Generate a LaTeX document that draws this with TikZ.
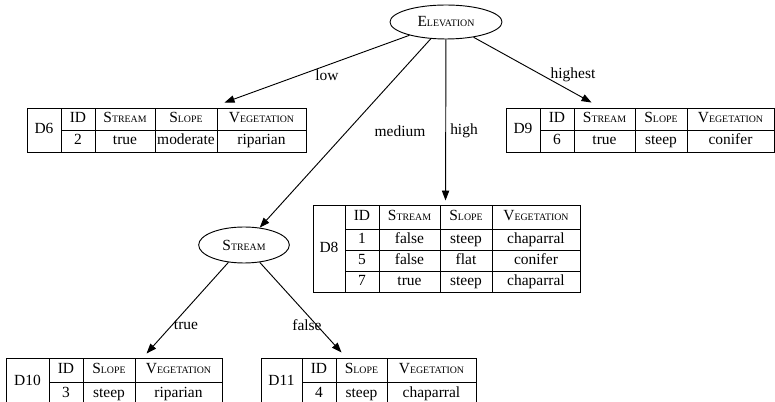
\documentclass[tikz,border=0pt]{standalone}
\usepackage{fontspec}
\setmainfont{Liberation Serif}
\usetikzlibrary{shapes.geometric,arrows.meta,calc}

% small-caps imitation: full-size initial, reduced capitals after it
\newcommand\scword[2]{#1{\fontsize{7.4}{8}\selectfont #2}}
% one table cell given by its corners (x1,y1) and (x2,y2)
\newcommand\cellat[6]{\node[cellbox, minimum width={(#4-#2)*0.75pt}, minimum height={(#5-#3)*0.75pt}] (#1) at ({(#2+#4)/2},{(#3+#5)/2}) {#6};}

\tikzset{
  basefont/.style={font=\fontsize{11.6}{13}\selectfont},
  cellbox/.style={draw, line width=0.7pt, inner sep=0pt, basefont, text height=8pt, text depth=2.4pt},
  attr/.style={draw, ellipse, line width=0.7pt, inner sep=0pt, basefont},
  edge/.style={line width=0.7pt, -{Triangle[length=7.5pt, width=5.5pt]}},
  elabel/.style={basefont, inner sep=0pt},
}

\begin{document}
\begin{tikzpicture}[x=0.75pt, y=-0.75pt]
\clip (0,0) rectangle (775,402);

% decision nodes
\node[attr, minimum width=84pt, minimum height=25.5pt] (elev) at (446,22) {\scword{E}{LEVATION}};
\node[attr, minimum width=68pt, minimum height=27pt] (stream) at (244,245) {\scword{S}{TREAM}};

% D6
\cellat{d6n}{27}{108}{61}{152}{D6}
\cellat{d6a}{61}{108}{95}{130}{ID}
\cellat{d6b}{95}{108}{155}{130}{\scword{S}{TREAM}}
\cellat{d6c}{155}{108}{217}{130}{\scword{S}{LOPE}}
\cellat{d6d}{217}{108}{306}{130}{\scword{V}{EGETATION}}
\cellat{d6e}{61}{130}{95}{152}{2}
\cellat{d6f}{95}{130}{155}{152}{true}
\cellat{d6g}{155}{130}{217}{152}{moderate}
\cellat{d6h}{217}{130}{306}{152}{riparian}

% D9
\cellat{d9n}{506}{108}{540}{152}{D9}
\cellat{d9a}{540}{108}{574}{130}{ID}
\cellat{d9b}{574}{108}{635}{130}{\scword{S}{TREAM}}
\cellat{d9c}{635}{108}{687}{130}{\scword{S}{LOPE}}
\cellat{d9d}{687}{108}{774}{130}{\scword{V}{EGETATION}}
\cellat{d9e}{540}{130}{574}{152}{6}
\cellat{d9f}{574}{130}{635}{152}{true}
\cellat{d9g}{635}{130}{687}{152}{steep}
\cellat{d9h}{687}{130}{774}{152}{conifer}

% D8
\cellat{d8n}{313}{205}{345}{292}{D8}
\cellat{d8a}{345}{205}{379}{229}{ID}
\cellat{d8b}{379}{205}{440}{229}{\scword{S}{TREAM}}
\cellat{d8c}{440}{205}{492}{229}{\scword{S}{LOPE}}
\cellat{d8d}{492}{205}{580}{229}{\scword{V}{EGETATION}}
\cellat{d8e}{345}{229}{379}{250}{1}
\cellat{d8f}{379}{229}{440}{250}{false}
\cellat{d8g}{440}{229}{492}{250}{steep}
\cellat{d8h}{492}{229}{580}{250}{chaparral}
\cellat{d8i}{345}{250}{379}{271}{5}
\cellat{d8j}{379}{250}{440}{271}{false}
\cellat{d8k}{440}{250}{492}{271}{flat}
\cellat{d8l}{492}{250}{580}{271}{conifer}
\cellat{d8m}{345}{271}{379}{292}{7}
\cellat{d8o}{379}{271}{440}{292}{true}
\cellat{d8p}{440}{271}{492}{292}{steep}
\cellat{d8q}{492}{271}{580}{292}{chaparral}

% D10
\cellat{d10n}{6}{358}{49}{406}{D10}
\cellat{d10a}{49}{358}{83}{382}{ID}
\cellat{d10b}{83}{358}{135}{382}{\scword{S}{LOPE}}
\cellat{d10c}{135}{358}{222}{382}{\scword{V}{EGETATION}}
\cellat{d10e}{49}{382}{83}{406}{3}
\cellat{d10f}{83}{382}{135}{406}{steep}
\cellat{d10g}{135}{382}{222}{406}{riparian}

% D11
\cellat{d11n}{261}{358}{302}{406}{D11}
\cellat{d11a}{302}{358}{336}{382}{ID}
\cellat{d11b}{336}{358}{387}{382}{\scword{S}{LOPE}}
\cellat{d11c}{387}{358}{476}{382}{\scword{V}{EGETATION}}
\cellat{d11e}{302}{382}{336}{406}{4}
\cellat{d11f}{336}{382}{387}{406}{steep}
\cellat{d11g}{387}{382}{476}{406}{chaparral}

% branches
\draw[edge] (elev) -- ($(d6d.north west)+(8,-5)$);
\draw[edge] (elev) -- (stream);
\draw[edge] (elev) -- ($(d8c.north west)+(6,-4)$);
\draw[edge] (elev) -- ($(d9b.north west)+(18,-5)$);
\draw[edge] (stream) -- ($(d10c.north west)+(12,-4)$);
\draw[edge] (stream) -- ($(d11b.north west)+(6,-5)$);

% branch labels
\node[elabel] (lLow) at (327,75) {low};
\node[elabel] (lMed) at (400,131) {medium};
\node[elabel] (lHigh) at (464,131) {high};
\node[elabel] (lHighest) at (573,75) {highest};
\node[elabel] (lTrue) at (186,325) {true};
\node[elabel] (lFalse) at (307,325) {false};
\end{tikzpicture}
\end{document}
